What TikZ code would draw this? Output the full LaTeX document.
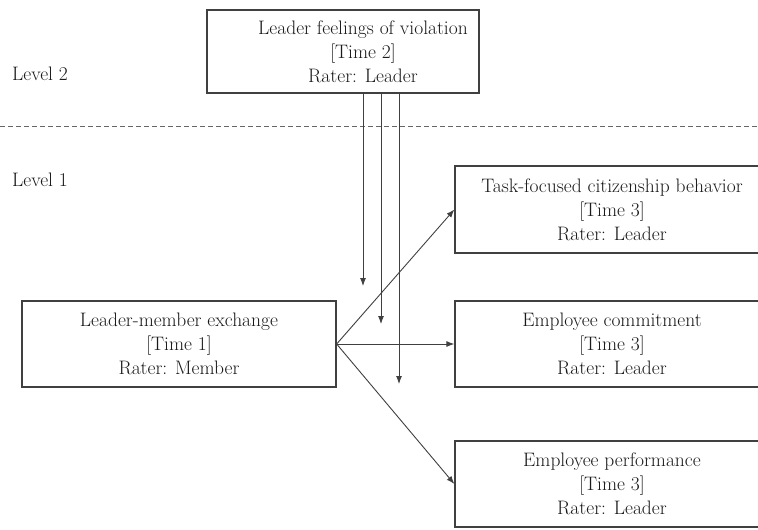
\documentclass[tikz,border=0pt]{standalone}
\usepackage{fontspec}
\usetikzlibrary{arrows.meta}
\definecolor{ink}{HTML}{404040}
\definecolor{txt}{HTML}{1A1A1A}
\tikzset{
  box/.style={draw=ink, line width=1.3pt, rectangle, align=center, inner sep=0pt,
    font=\fontsize{19.5}{24}\selectfont, text=txt},
  plain/.style={align=center, inner sep=0pt, font=\fontsize{19.5}{24}\selectfont, text=txt},
  lvl/.style={anchor=west, inner sep=0pt, font=\fontsize{19.5}{24}\selectfont, text=txt},
  arr/.style={draw=ink, line width=0.9pt, -{Latex[length=8pt,width=6pt]}},
}
\begin{document}
\begin{tikzpicture}[x=1pt,y=-1pt]
\clip (0,0) rectangle (758,530);
\fill[white] (0,0) rectangle (758,530);
% level separator
\coordinate (dl) at (0,126);
\coordinate (dr) at (758,126);
\draw[ink!80, line width=1pt, dash pattern=on 5pt off 3pt] (dl) -- (dr);
\node[lvl] (l2) at (12,74) {Level 2};
\node[lvl] (l1) at (12,180) {Level 1};
% boxes
\node[box, minimum width=272, minimum height=83] (viol) at (343,51.5) {};
\node[plain] (violtext) at (363,51.5)
  {Leader feelings of violation\\{}[Time 2]\\Rater: Leader};
\node[box, minimum width=314, minimum height=86] (lmx) at (179,344)
  {Leader-member exchange\\{}[Time 1]\\Rater: Member};
\node[box, minimum width=314, minimum height=87] (tcb) at (612,209.5)
  {Task-focused citizenship behavior\\{}[Time 3]\\Rater: Leader};
\node[box, minimum width=314, minimum height=86] (com) at (612,344)
  {Employee commitment\\{}[Time 3]\\Rater: Leader};
\node[box, minimum width=314, minimum height=86] (perf) at (612,484)
  {Employee performance\\{}[Time 3]\\Rater: Leader};
% moderation arrows
\coordinate (m1) at (363,286);
\coordinate (m2) at (381,324);
\coordinate (m3) at (399,384);
\draw[arr] (viol.south -| m1) -- (m1);
\draw[arr] (viol.south -| m2) -- (m2);
\draw[arr] (viol.south -| m3) -- (m3);
% main arrows
\draw[arr] (lmx.east) -- (tcb.west);
\draw[arr] (lmx.east) -- (com.west);
\draw[arr] (lmx.east) -- (perf.west);
\end{tikzpicture}
\end{document}
